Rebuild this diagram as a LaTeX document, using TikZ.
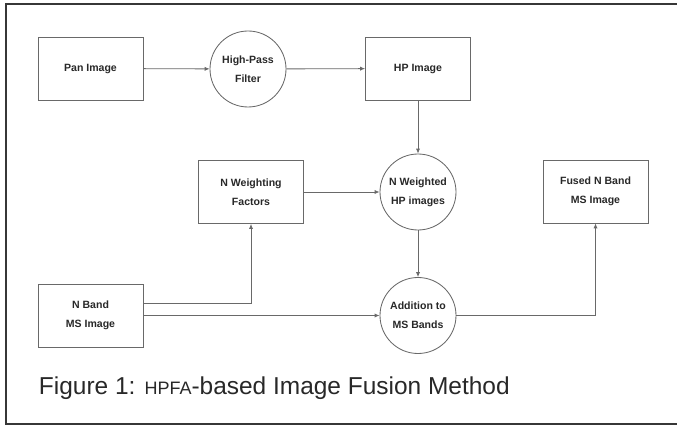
\documentclass[tikz,border=0pt]{standalone}
\usepackage{fontspec}
\setmainfont{Liberation Sans}
\usepackage{xcolor}
\definecolor{hpline}{RGB}{105,105,105}
\definecolor{hpframe}{RGB}{55,55,55}
\definecolor{hptext}{RGB}{40,40,40}
\usetikzlibrary{arrows.meta, positioning}

\begin{document}
\begin{tikzpicture}[
  stepbox/.style={draw=hpline, line width=0.6pt, minimum width=2.625cm, minimum height=1.575cm,
    align=center, text=hptext, font=\fontsize{7.5}{13.5}\selectfont\bfseries},
  opcircle/.style={draw=hpline, line width=0.6pt, circle, minimum size=1.9cm, inner sep=0pt,
    align=center, text=hptext, font=\fontsize{7.5}{13.5}\selectfont\bfseries},
  flow/.style={draw=hpline, line width=0.6pt, -{Latex[length=3.5pt, width=3pt]}}
]
  \useasboundingbox (0,0) rectangle (16.925,10.65);

  % outer frame (open on the right)
  \draw[hpframe, line width=1pt] (17.2,10.55) -- (0.15,10.55) -- (0.15,0.05) -- (17.2,0.05);

  % top row
  \node[stepbox] (pan) at (2.2625,8.9375) {Pan Image};
  \node[opcircle] (hpf) at (6.2,8.925) {High-Pass\\Filter};
  \node[stepbox] (hpimg) at (10.45,8.9375) {HP Image};

  % middle row
  \node[stepbox] (nwf) at (6.275,5.85) {N Weighting\\Factors};
  \node[opcircle] (nwhp) at (10.45,5.85) {N Weighted\\HP images};
  \node[stepbox] (fused) at (14.8875,5.8625) {Fused N Band\\MS Image};

  % bottom row
  \node[stepbox] (nband) at (2.2625,2.7625) {N Band\\MS Image};
  \node[opcircle] (add) at (10.45,2.7625) {Addition to\\MS Bands};

  % connectors
  \draw[flow] (pan) -- (hpf);
  \draw[flow] (hpf) -- (hpimg);
  \draw[flow] (hpimg) -- (nwhp);
  \draw[flow] (nwf) -- (nwhp);
  \draw[flow] (nwhp) -- (add);
  \draw[flow] ([yshift=0.3125cm]nband.east) -| (nwf.south);
  \draw[flow] (nband) -- (add);
  \draw[flow] (add) -| (fused.south);

  % caption
  \node[anchor=west, text=hptext, font=\fontsize{17.4}{20}\selectfont] (caption) at (0.85,0.95)
    {Figure 1: {\fontsize{12.8}{15}\selectfont HPFA}-based Image Fusion Method};
\end{tikzpicture}
\end{document}
